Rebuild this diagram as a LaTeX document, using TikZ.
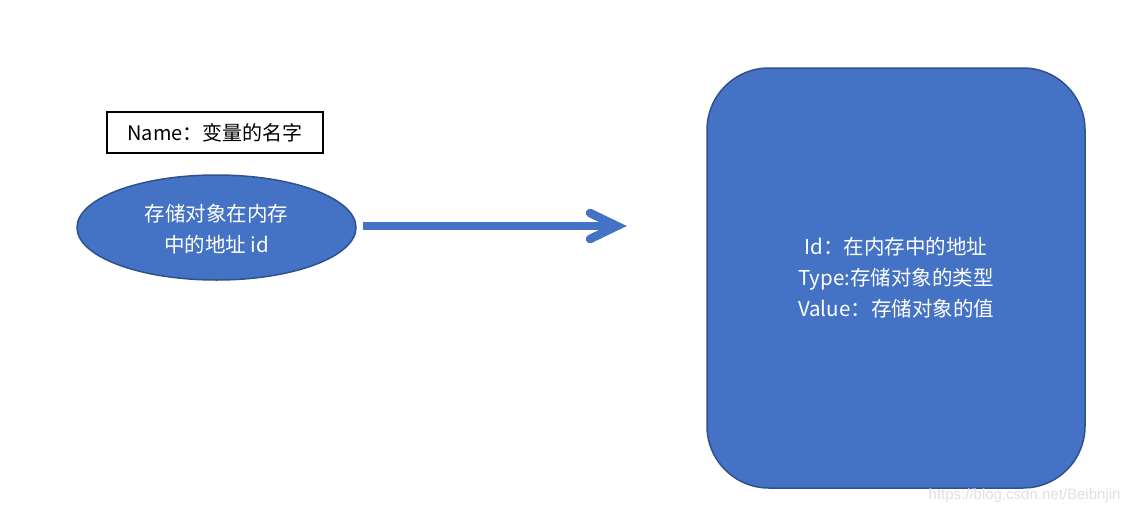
\documentclass[tikz,border=0pt]{standalone}
\usepackage{fontspec}
\usetikzlibrary{shapes.geometric}
\setmainfont{Noto Sans CJK SC}
\newfontfamily\wmfont{Liberation Sans}
\begin{document}
\begin{tikzpicture}[x=1pt,y=-1pt,
  blueshape/.style={fill=blue4, draw=blueedge, line width=1.5pt},
  bigtext/.style={text=white, font=\fontsize{20.5}{31}\selectfont, align=center},
  arrowline/.style={draw=blue4, line width=8.5pt}]
\definecolor{blue4}{HTML}{4472C4}
\definecolor{blueedge}{HTML}{2F528F}
\useasboundingbox[fill=white] (0,0) rectangle (1132,514);
\node[draw=black, line width=2pt, minimum width=216, minimum height=41, inner sep=0, font=\fontsize{20}{22}\selectfont] (name) at (215,132.5) {Name：变量的名字};
\node[ellipse, blueshape, minimum width=279, minimum height=105, inner sep=0] (ell) at (216.5,227.5) {};
\node[bigtext] (elltext) at (216.5,229) {存储对象在内存\\中的地址 id};
\node[blueshape, rounded corners=62, minimum width=378, minimum height=420, inner sep=0] (obj) at (896,278) {};
\node[bigtext] (objtext) at (896,278) {Id：在内存中的地址\\Type:存储对象的类型\\Value：存储对象的值};
\coordinate (tip) at (617,226);
\draw[arrowline] ([xshift=6]ell.east |- tip) -- ([xshift=-4]tip);
\draw[arrowline, line cap=round, line join=miter] ([shift={(-27,-13)}]tip) -- (tip) -- ([shift={(-27,13)}]tip);
\node[text=black!12, font=\wmfont\fontsize{15}{18}\selectfont, anchor=east] (wm) at (1124,496) {https://blog.csdn.net/Beibnjin};
\end{tikzpicture}
\end{document}
